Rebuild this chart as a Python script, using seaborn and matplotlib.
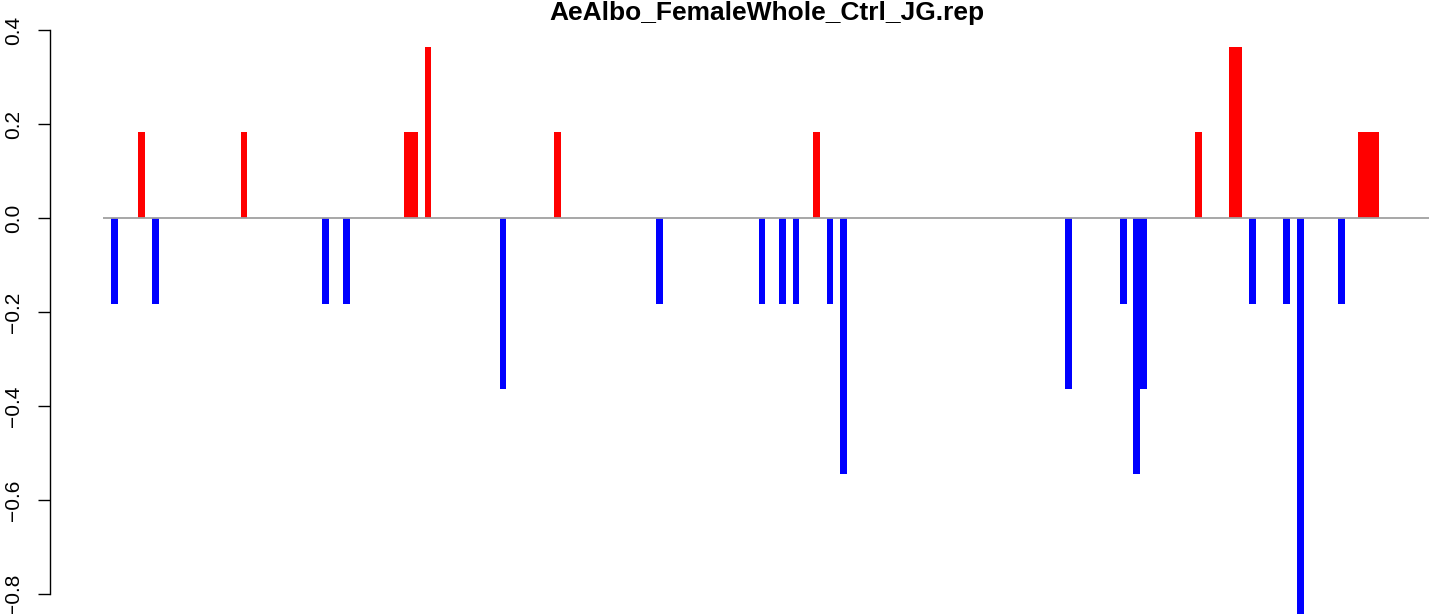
import pandas as pd
import matplotlib.pyplot as plt
import seaborn as sns

# slot index of each non-zero bar and its value (steps of 2/11)
slots = [0, 4, 6, 19, 31, 34, 43, 44, 46, 57, 65, 80, 95, 98, 100, 103, 105, 107,
         140, 148, 150, 151, 159, 164, 165, 167, 172, 174, 180, 183, 184, 185]
values = [-0.182, 0.182, -0.182, 0.182, -0.182, -0.182, 0.182, 0.182, 0.364,
          -0.364, 0.182, -0.182, -0.182, -0.182, -0.182, 0.182, -0.182, -0.545,
          -0.364, -0.182, -0.545, -0.364, 0.182, 0.364, 0.364, -0.182, -0.182,
          -0.909, -0.182, 0.182, 0.182, 0.182]
yticks = [-0.8, -0.6, -0.4, -0.2, 0.0, 0.2, 0.4]
title = "AeAlbo_FemaleWhole_Ctrl_JG.rep"

df = pd.DataFrame({"slot": slots, "value": values})
df["sign"] = ["up" if v > 0 else "down" for v in df["value"]]

sns.set_theme(style="white")
plt.rcParams["font.family"] = ["Liberation Sans", "DejaVu Sans"]
plt.rcParams["text.color"] = "black"
plt.rcParams["ytick.color"] = "black"

W, H = 1429, 614
fig = plt.figure(figsize=(W / 100, H / 100), dpi=100)
ax = fig.add_axes([50 / W, 0, (W - 50) / W, 1])

sns.barplot(data=df, x="slot", y="value", hue="sign",
            palette={"up": "#FF0000", "down": "#0000FF"},
            native_scale=True, dodge=False, width=1, saturation=1,
            errorbar=None, linewidth=0, legend=False, ax=ax)

# pixel layout: slot 0 left edge at x=111, ~6.81 px per slot
w = 6.815
x0 = -0.5 - (111.1 - 50) / w
x1 = -0.5 + (W - 111.1) / w
ax.set_xlim(x0, x1)
ax.set_ylim(-0.8 - 20 / 470, 0.4 + 30 / 470)
ax.hlines(0, -0.5 - (111.1 - 103.3) / w, x1, color="#A0A0A0", lw=1.3, zorder=5)

for s in ["top", "right", "bottom"]:
    ax.spines[s].set_visible(False)
ax.spines["left"].set_bounds(-0.8, 0.4)
ax.spines["left"].set_linewidth(1.0)
ax.spines["left"].set_color("black")
ax.set_xticks([])
ax.set_yticks(yticks)
ax.set_yticklabels([f"{t:.1f}".replace("-", "\u2212") for t in yticks],
                   rotation=90, va="center", fontsize=15, color="black")
ax.tick_params(axis="y", direction="out", length=8.6, width=1.0, color="black",
               labelcolor="black", pad=11, left=True)
ax.set_xlabel("")
ax.set_ylabel("")

fig.text(767 / W, 1 - 20 / H, title, ha="center", va="baseline",
         fontsize=19, fontweight="bold", color="black")

fig.savefig("out.png", dpi=100)
